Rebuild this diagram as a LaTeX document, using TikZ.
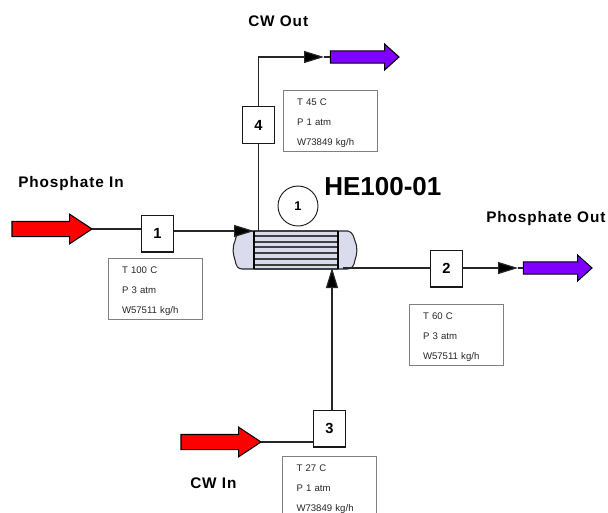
\documentclass[tikz,border=0pt]{standalone}
\usepackage{fontspec}
\setmainfont{Liberation Sans}
\usetikzlibrary{arrows.meta,shapes.arrows}
\definecolor{hefill}{RGB}{218,219,236}
\definecolor{cwpurple}{RGB}{128,0,255}
\tikzset{
    numbox/.style={draw=black!90, line width=1pt, fill=white, minimum width=24pt, minimum height=27.5pt, inner sep=0pt, font=\fontsize{11}{12}\selectfont\bfseries},
    infobox/.style={draw=black!50, line width=.7pt, fill=white, minimum height=45.75pt, text width=49.5pt, inner xsep=10.5pt, inner ysep=0pt, align=left, text=black!85, font=\fontsize{7.2}{15}\selectfont, execute at begin node={\rule{0pt}{9.5pt}}},
    title/.style={anchor=west, inner sep=0pt, font=\fontsize{11.5}{13}\selectfont\bfseries\addfontfeatures{LetterSpace=6}},
    feedin/.style={single arrow, draw=black, line width=.8pt, fill=red, inner xsep=0pt, inner ysep=5.25pt, outer sep=0pt, single arrow head extend=5.5pt, single arrow tip angle=67, single arrow head indent=0pt, minimum height=60pt, anchor=tip},
    feedout/.style={single arrow, draw=black, line width=.8pt, fill=cwpurple, inner xsep=0pt, inner ysep=4.25pt, outer sep=0pt, single arrow head extend=5pt, single arrow tip angle=84, single arrow head indent=0pt, minimum height=51.5pt, anchor=tip},
    pipe/.style={draw=black!85, line width=.9pt},
    flow/.style={pipe, -{Triangle[length=15pt,width=9pt,fill=black]}}
}
\begin{document}
\begin{tikzpicture}[x=.75pt, y=-.75pt]
    \useasboundingbox (0,0) rectangle (608,512);
    % Feed and product arrows
    \node[feedin] (phosin) at (92,229) {};
    \node[feedin] (cwin) at (261,442) {};
    \node[feedout] (phosout) at (592,268) {};
    \node[feedout] (cwout) at (399,57) {};
    % Stream number boxes
    \node[numbox] (s1) at (157.5,233.5) {1};
    \node[numbox] (s2) at (446.5,268.5) {2};
    \node[numbox] (s3) at (329.5,428.5) {3};
    \node[numbox] (s4) at (258.5,125) {4};
    % Stream tables
    \node[infobox] (t1) at (155,288.5) {T 100 C\\P 3 atm\\W57511 kg/h};
    \node[infobox] (t2) at (456,334.5) {T 60 C\\P 3 atm\\W57511 kg/h};
    \node[infobox] (t3) at (329.5,486.5) {T 27 C\\P 1 atm\\W73849 kg/h};
    \node[infobox] (t4) at (330,120.5) {T 45 C\\P 1 atm\\W73849 kg/h};
    % Heat exchanger
    \filldraw[fill=hefill, draw=black!85, line width=.8pt] (254,231) -- (241,231)
        .. controls (236,233) and (236,238) .. (235,241)
        .. controls (232,248) and (233,254) .. (235,260)
        .. controls (236,266) and (238,269) .. (242,269) -- (254,269) -- cycle;
    \filldraw[fill=hefill, draw=black!85, line width=.8pt] (338,231) -- (348,231)
        .. controls (353,232) and (354,238) .. (355,241)
        .. controls (358,248) and (357,254) .. (355,260)
        .. controls (354,266) and (352,269) .. (347,269) -- (338,269) -- cycle;
    \fill[hefill] (254,231) rectangle (338,269);
    \foreach \y in {231,236,242,247,253,259,265,269}
        \draw[line width=.9pt, black!75] (254,\y) -- (338,\y);
    \draw[line width=1pt] (254,231) -- (254,269);
    \draw[line width=1pt] (338,231) -- (338,269);
    \node[draw=black!90, circle, line width=.7pt, fill=white, minimum size=30pt, inner sep=0pt, font=\fontsize{9.5}{11}\selectfont\bfseries] (heno) at (298,206) {1};
    \coordinate (heleft) at (254,231);
    \coordinate (hetop) at (258.5,231);
    \coordinate (hebottom) at (332,268);
    \coordinate (heright) at (343,268);
    % Connectors
    \draw[pipe] (phosin.tip) -- (s1.west |- phosin.tip);
    \draw[pipe] (s1.east |- heleft) -- (228,231);
    \draw[flow] (228,231) -- (heleft);
    \draw[pipe] (heright) -- (s2.west |- heright);
    \draw[pipe] (s2.east |- heright) -- (497,268);
    \draw[flow] (497,268) -- (518,268);
    \draw[pipe] (518,268) -- (phosout.tail);
    \draw[pipe] (cwin.tip) -- (s3.west |- cwin.tip);
    \draw[pipe] (hebottom |- s3.north) -- (332,287);
    \draw[flow] (332,287) -- (hebottom);
    \draw[pipe] (hetop) -- (s4.south);
    \draw[pipe] (s4.north) -- (258.5,57) -- (303,57);
    \draw[flow] (303,57) -- (324,57);
    \draw[pipe] (324,57) -- (cwout.tail);
    % Labels
    \node[title] (lphosin) at (18,184) {Phosphate In};
    \node[title] (lphosout) at (486,219) {Phosphate Out};
    \node[title] (lcwout) at (248,21) {CW Out};
    \node[title] (lcwin) at (190,483) {CW In};
    \node[anchor=west, inner sep=0pt, font=\fontsize{19.5}{22}\selectfont\bfseries] (lhe) at (324,187) {HE100-01};
\end{tikzpicture}
\end{document}
